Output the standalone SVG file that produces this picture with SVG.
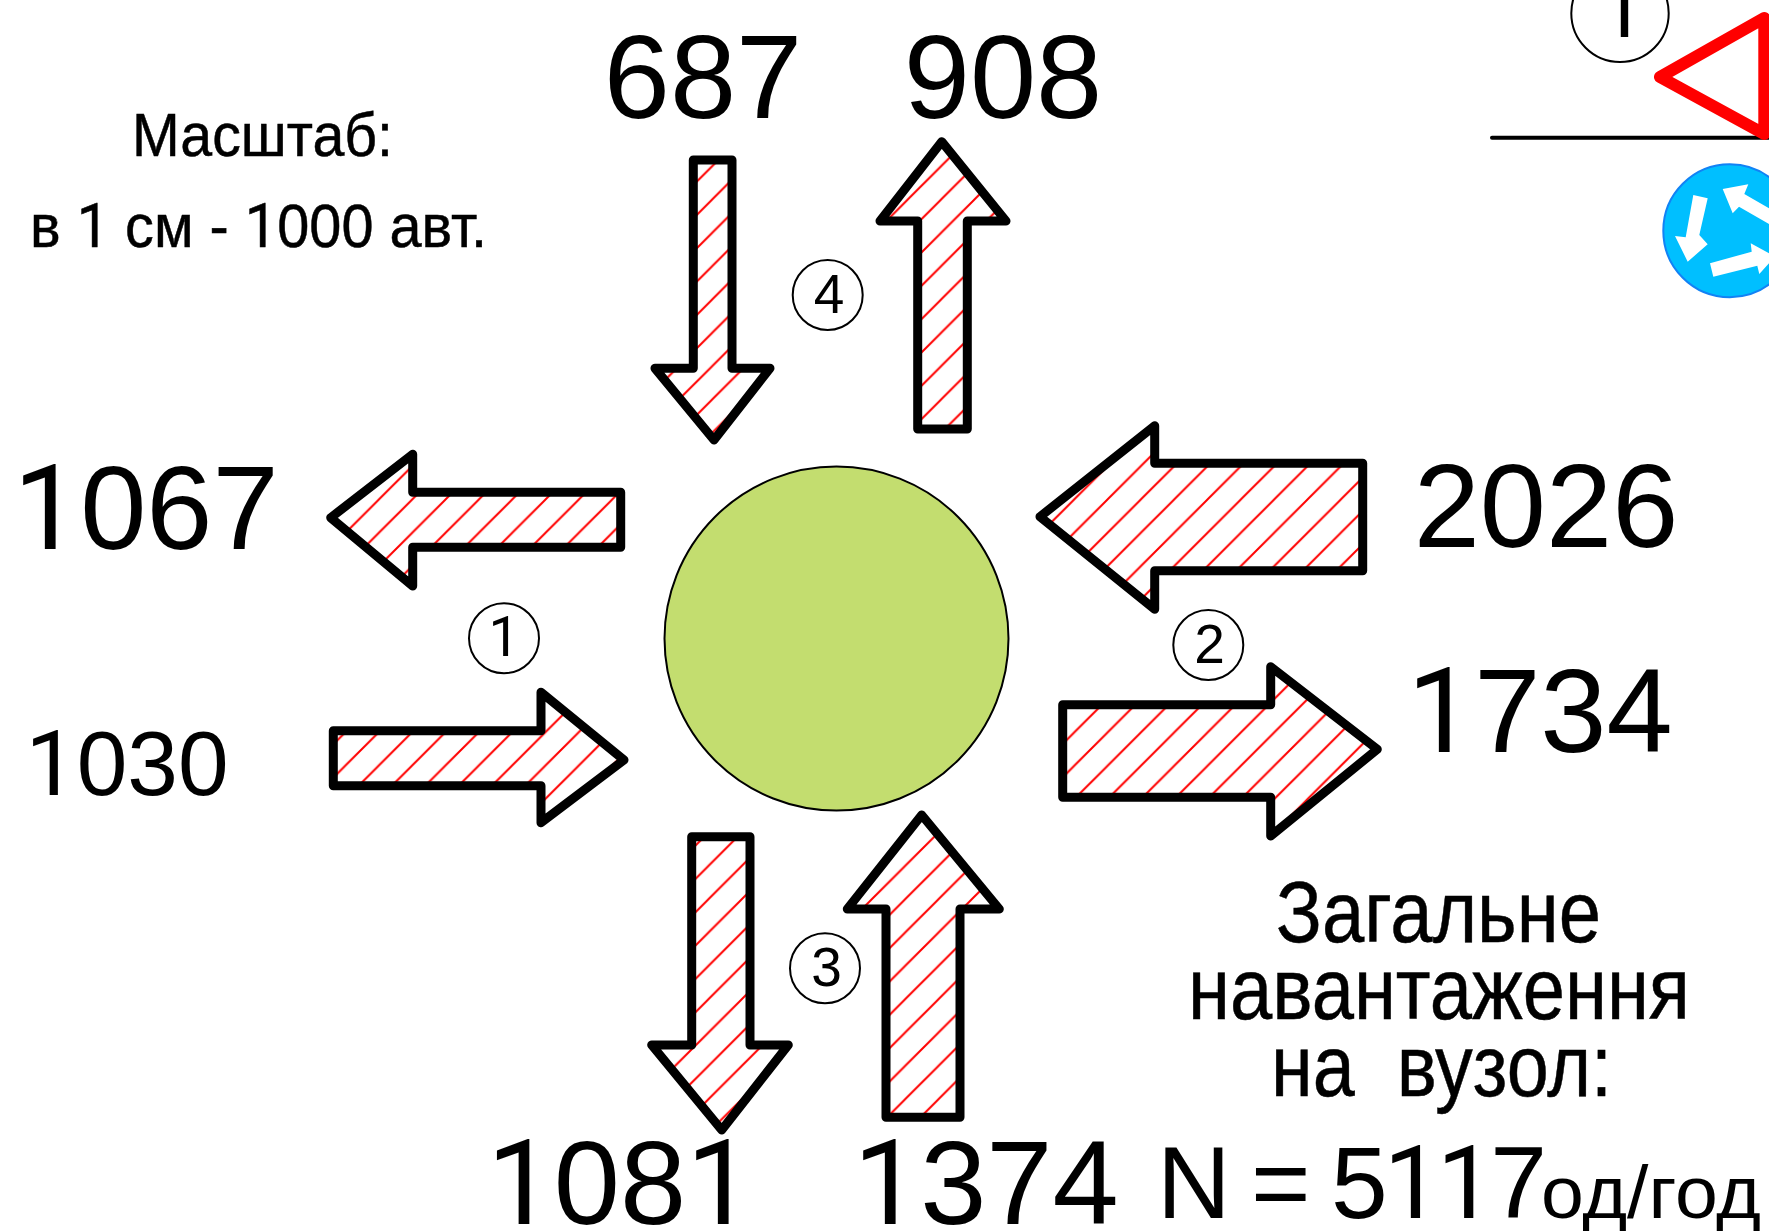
<svg xmlns="http://www.w3.org/2000/svg" width="1769" height="1231" viewBox="0 0 1769 1231">
<style>
text{font-family:"Liberation Sans",Arial,sans-serif;fill:#000;text-anchor:middle}
tspan.r{font-family:Roboto,"Liberation Sans",sans-serif}
.a{stroke:#000;stroke-width:9;stroke-linejoin:round;stroke-linecap:round}
.n{fill:#fff;stroke:#000;stroke-width:2}
.big{font-size:119px}
.cn{font-size:55px}
.lab{font-size:62px;text-anchor:start;stroke:#000;stroke-width:.5}
.tot{font-size:88px;text-anchor:start;stroke:#000;stroke-width:.5}
</style>
<defs>
<pattern id="h" width="33.333" height="33.333" patternUnits="userSpaceOnUse"><rect width="33.333" height="33.333" fill="#fff"/><path d="M-2,35.333L35.333,-2M-2,2L2,-2M31.333,35.333L35.333,31.333" stroke="#f00" stroke-width="2" fill="none"/></pattern>
<pattern id="h1" href="#h" patternTransform="translate(11.7,0)"/>
<pattern id="h2" href="#h" patternTransform="translate(11,0)"/>
<pattern id="h3" href="#h" patternTransform="translate(7,0)"/>
<pattern id="h4" href="#h" patternTransform="translate(6.7,0)"/>
<pattern id="h5" href="#h" patternTransform="translate(7.7,0)"/>
<pattern id="h6" href="#h" patternTransform="translate(4.4,0)"/>
<pattern id="h7" href="#h" patternTransform="translate(11.7,0)"/>
<pattern id="h8" href="#h" patternTransform="translate(7.3,0)"/>
</defs>
<rect width="1769" height="1231" fill="#fff"/>
<g id="connectors">
<polygon class="a" fill="url(#h1)" points="330.7,517.7 412.7,454.3 412.7,492.3 620.7,492.3 620.7,547.3 412.7,547.3 412.7,586"/>
<polygon class="a" fill="url(#h2)" points="333.3,730.7 541,730.7 541,692.3 624,760 541,822.7 541,785.7 333.3,785.7"/>
<polygon class="a" fill="url(#h3)" points="1040,516.7 1154.7,425.7 1154.7,463.3 1362.7,463.3 1362.7,570.7 1154.7,570.7 1154.7,609.3"/>
<polygon class="a" fill="url(#h4)" points="1062.7,704.7 1270.7,704.7 1270.7,666.7 1377.3,749.3 1270.7,836 1270.7,797.3 1062.7,797.3"/>
<polygon class="a" fill="url(#h5)" points="691.7,836.7 750,836.7 750,1045 788.3,1045 721.7,1130 651.7,1045 691.7,1045"/>
<polygon class="a" fill="url(#h6)" points="921.7,815 999.3,909 960,909 960,1117.3 886,1117.3 886,909 847.3,909"/>
<polygon class="a" fill="url(#h7)" points="693.3,160 732,160 732,368.3 770,368.3 714,440 655,368.3 693.3,368.3"/>
<polygon class="a" fill="url(#h8)" points="941.7,141.7 1006,221 967.3,221 967.3,429 917.7,429 917.7,221 880,221"/>
</g>
<g id="junction"><circle cx="836.5" cy="638.6" r="172" fill="#c3dd6f" stroke="#000" stroke-width="2"/></g>
<g id="leg-1"><circle class="n" cx="504" cy="638.3" r="35"/><text class="cn" x="504" y="656"><tspan class="r">1</tspan></text></g>
<g id="leg-2"><circle class="n" cx="1208.3" cy="645" r="35"/><text class="cn" x="1209.5" y="662.5">2</text></g>
<g id="leg-3"><circle class="n" cx="825" cy="968.3" r="35"/><text class="cn" x="826.5" y="986">3</text></g>
<g id="leg-4"><circle class="n" cx="827.7" cy="295" r="35"/><text class="cn" x="829" y="312.7">4</text></g>
<g id="flows">
<text class="big" x="703" y="118">687</text>
<text class="big" x="1003" y="118">908</text>
<text class="big" x="146" y="549"><tspan class="r">1</tspan>067</text>
<text class="big" x="1546" y="547">2026</text>
<text class="big" x="1540" y="752"><tspan class="r">1</tspan>734</text>
<text x="127" y="795" style="font-size:91px"><tspan class="r">1</tspan>030</text>
<text class="big" x="620" y="1224"><tspan class="r">1</tspan>08<tspan class="r">1</tspan></text>
<text class="big" x="986" y="1224"><tspan class="r">1</tspan>374</text>
</g>
<g id="scale">
<text class="lab" x="132" y="156" textLength="261" lengthAdjust="spacingAndGlyphs">Масштаб:</text>
<text class="lab" x="30" y="247" textLength="457" lengthAdjust="spacingAndGlyphs">в <tspan class="r">1</tspan> см - <tspan class="r">1</tspan>000 авт.</text>
</g>
<g id="total">
<text class="tot" x="1276" y="942" textLength="325" lengthAdjust="spacingAndGlyphs">Загальне</text>
<text class="tot" x="1188" y="1018.5" textLength="502" lengthAdjust="spacingAndGlyphs">навантаження</text>
<text class="tot" x="1271" y="1096" textLength="341" lengthAdjust="spacingAndGlyphs" xml:space="preserve">на  вузол:</text>
<text x="1157" y="1218" textLength="390" lengthAdjust="spacing" style="text-anchor:start;font-size:102px">N = 5<tspan class="r">11</tspan>7</text>
<text x="1541" y="1218" textLength="220" lengthAdjust="spacingAndGlyphs" style="text-anchor:start;font-size:74px">од/год</text>
</g>
<g id="signs">
<circle class="n" cx="1620" cy="13.3" r="48.7"/>
<text x="1622" y="37" style="font-size:82px"><tspan class="r">1</tspan></text>
<line x1="1492" y1="137.7" x2="1769" y2="137.7" stroke="#000" stroke-width="4" stroke-linecap="round"/>
<polygon points="1660,77 1764.3,18 1764.3,134" fill="#fff" stroke="#f00" stroke-width="12" stroke-linejoin="round"/>
<circle cx="1729.8" cy="230.8" r="66.5" fill="#00bfff" stroke="#1282f5" stroke-width="2"/>
<polygon fill="#fff" points="1693.3,195 1707.7,198.3 1699.3,235 1707.7,244.3 1687.7,261.7 1675,236 1685.7,237.3"/>
<polygon fill="#fff" points="1722.7,189 1748.3,184.3 1744.3,194 1769,208.3 1769,224 1739,206.7 1732.7,213.3"/>
<polygon fill="#fff" points="1710,263.3 1751.7,251.7 1750.7,243.3 1769,253.3 1769,263.3 1759.3,274 1757.3,265.7 1713.3,276.7"/>
</g>
</svg>
